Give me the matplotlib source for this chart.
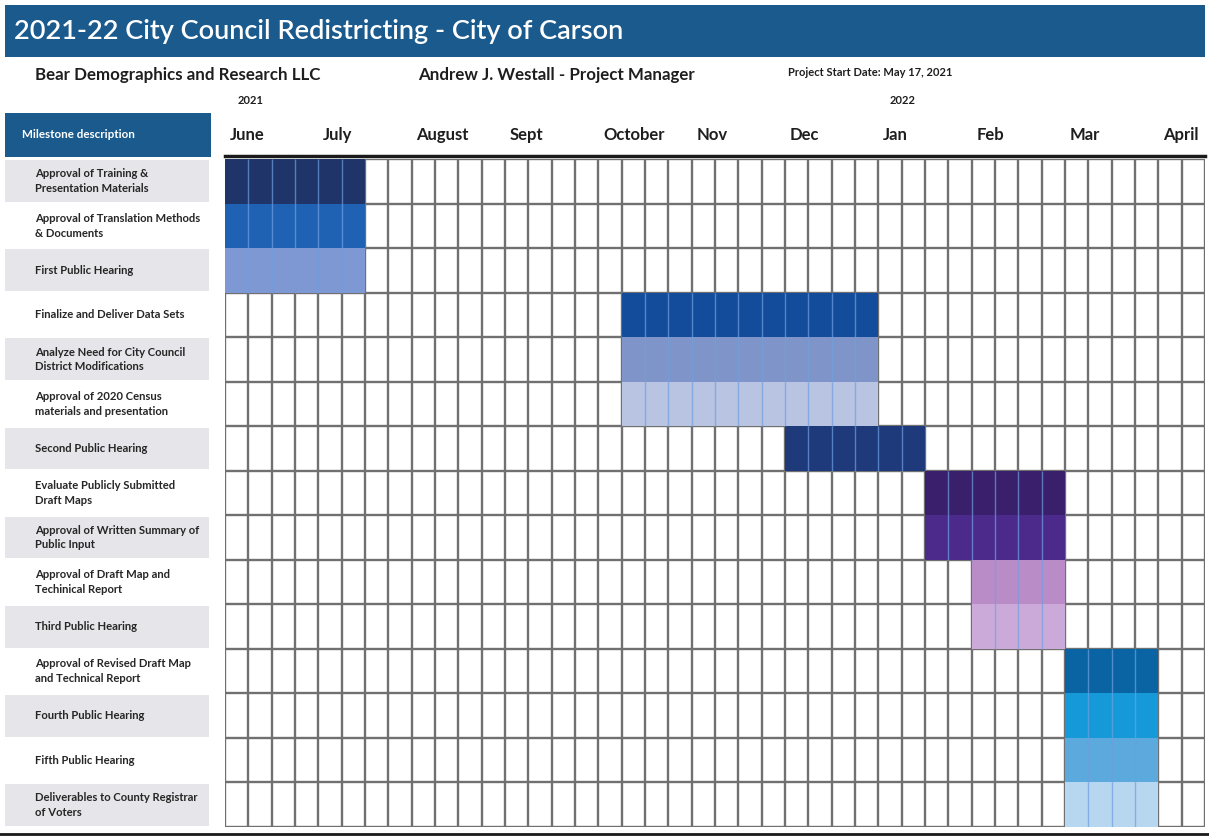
import numpy as np
import matplotlib.pyplot as plt
from matplotlib.patches import Rectangle

plt.rcParams['font.family'] = ['Lato', 'DejaVu Sans']

# data
tasks = ['Approval of Training &\nPresentation Materials',
         'Approval of Translation Methods\n& Documents',
         'First Public Hearing',
         'Finalize and Deliver Data Sets',
         'Analyze Need for City Council\nDistrict Modifications',
         'Approval of 2020 Census\nmaterials and presentation',
         'Second Public Hearing',
         'Evaluate Publicly Submitted\nDraft Maps',
         'Approval of Written Summary of\nPublic Input',
         'Approval of Draft Map and\nTechinical Report',
         'Third Public Hearing',
         'Approval of Revised Draft Map\nand Technical Report',
         'Fourth Public Hearing',
         'Fifth Public Hearing',
         'Deliverables to County Registrar\nof Voters']
start_week = [0, 0, 0, 17, 17, 17, 24, 30, 30, 32, 32, 36, 36, 36, 36]
n_weeks = [6, 6, 6, 11, 11, 11, 6, 6, 6, 4, 4, 4, 4, 4, 4]
bar_colors = ['#1f3468', '#1f62b3', '#7d98d2', '#134c9a', '#7f95c9', '#b9c4e3',
              '#1e3a7a', '#3a1f6c', '#4b2a8c', '#b98cc8', '#cbaad9',
              '#0a64a4', '#1699d9', '#5ba9dd', '#b7d6ef']
months = ['June', 'July', 'August', 'Sept', 'October', 'Nov', 'Dec', 'Jan',
          'Feb', 'Mar', 'April']
month_week = [0, 4, 8, 12, 16, 20, 24, 28, 32, 36, 40]
n_cols = 42

W, H = 1209, 836
def fx(px):
    return px / W
def fy(py):
    return 1 - py / H

fig = plt.figure(figsize=(W / 100, H / 100), dpi=100)
fig.patch.set_facecolor('white')

# header banner
fig.patches.append(Rectangle((fx(5), fy(57)), fx(1200), 52 / H, transform=fig.transFigure,
                             facecolor='#1b5a8d', edgecolor='none'))
fig.text(fx(14), fy(31), '2021-22 City Council Redistricting - City of Carson',
         color='white', fontsize=19.5, fontweight='semibold', va='center')

txt = '#1e1e1e'
fig.text(fx(35), fy(75), 'Bear Demographics and Research LLC', fontsize=12.2,
         fontweight='bold', color=txt, va='center')
fig.text(fx(418), fy(75), 'Andrew J. Westall - Project Manager', fontsize=12.2,
         fontweight='bold', color=txt, va='center')
fig.text(fx(788), fy(73), 'Project Start Date: May 17, 2021', fontsize=8,
         fontweight='bold', color=txt, va='center')
fig.text(fx(238), fy(101), '2021', fontsize=8, fontweight='bold', color=txt, va='center')
fig.text(fx(890), fy(100), '2022', fontsize=8, fontweight='bold', color=txt, va='center')

# milestone header box
fig.patches.append(Rectangle((fx(5), fy(157)), fx(206), 44 / H, transform=fig.transFigure,
                             facecolor='#1b5a8d', edgecolor='none'))
fig.text(fx(22), fy(135), 'Milestone description', fontsize=8.4, fontweight='bold',
         color='white', va='center')

# main grid axes
ax = fig.add_axes([fx(225), fy(827), fx(1205) - fx(225), fy(159) - fy(827)])
ax.set_xlim(0, n_cols)
ax.set_ylim(len(tasks), 0)
ax.axis('off')

for i in range(len(tasks)):
    cells = np.arange(start_week[i], start_week[i] + n_weeks[i])
    ax.barh(np.full(len(cells), i + 0.5), np.ones(len(cells)), left=cells, height=1,
            color=bar_colors[i], edgecolor='none', zorder=2)

# grid lines
for x in range(n_cols + 1):
    ax.axvline(x, color='#707070', lw=1.7, zorder=1)
for y in range(len(tasks) + 1):
    ax.axhline(y, color='#707070', lw=1.7, zorder=1)
# light cell separators inside bars
for i in range(len(tasks)):
    xs = np.arange(start_week[i] + 1, start_week[i] + n_weeks[i])
    ax.vlines(xs, i, i + 1, color='#6f9fe0', lw=1.0, alpha=0.7, zorder=3)

# month labels
for m, w in zip(months, month_week):
    ax.text(w + 0.2, -0.53, m, fontsize=12, fontweight='bold', color=txt,
            va='center', ha='left', clip_on=False)
ax.plot([0, n_cols], [-0.06, -0.06], color='#1a1a1a', lw=2.5, zorder=4, clip_on=False)

# label column
ax_lab = fig.add_axes([fx(5), fy(827), fx(210) - fx(5), fy(159) - fy(827)])
ax_lab.set_xlim(0, 205)
ax_lab.set_ylim(len(tasks), 0)
ax_lab.axis('off')
for i, t in enumerate(tasks):
    if i % 2 == 0:
        ax_lab.add_patch(Rectangle((0, i + 0.03), 204, 0.94, facecolor='#e6e6ea',
                                   edgecolor='none'))
    ax_lab.text(30, i + 0.5, t, fontsize=8.1, fontweight='bold', color='#262626',
                va='center', ha='left', linespacing=1.4)

# bottom rule
fig.add_artist(plt.Line2D([0, 1], [fy(834), fy(834)], color='#1a1a1a', lw=2,
                          transform=fig.transFigure))

fig.savefig('out.png', dpi=100)
